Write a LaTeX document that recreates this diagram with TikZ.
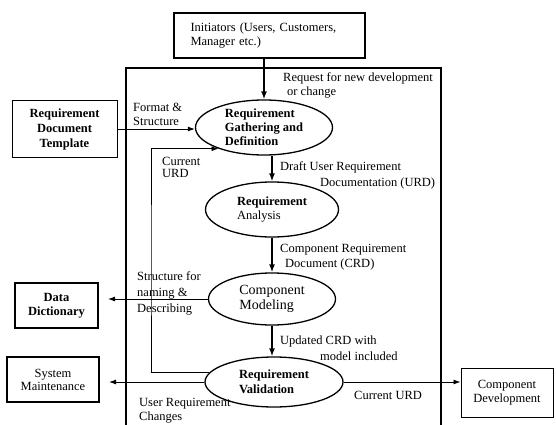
\documentclass[tikz,border=0pt]{standalone}
\usepackage{fontspec}
\setmainfont{Liberation Serif}
\usetikzlibrary{arrows.meta,shapes.geometric}
\newcommand\lblfont[1]{\fontsize{12.5}{#1}\selectfont}
\begin{document}
\begin{tikzpicture}[x=1pt,y=-1pt,
  txt/.style={font=\lblfont{14}},
  box/.style={draw, rectangle, inner sep=0pt, txt, align=center},
  proc/.style={draw, ellipse, line width=1.3pt, inner sep=0pt, txt, align=left},
  lbl/.style={inner sep=0pt, txt, align=left, anchor=west},
  flow/.style={line width=1.8pt, -{Latex[length=8pt,width=6pt]}},
  link/.style={line width=0.9pt, -{Latex[length=7pt,width=5pt]}},
  frame/.style={line width=2.5pt}]
\useasboundingbox (0,0) rectangle (556,425);
\fill[white] (0,0) rectangle (556,425);

% external parties
\node[box, line width=1.4pt, minimum width=191pt, minimum height=45pt,
      text width=158pt, align=left] (init) at (269.5,35.5)
      {Initiators (Users, Customers,\\Manager etc.)};
\node[box, line width=1pt, minimum width=105pt, minimum height=56pt,
      font=\lblfont{15}\bfseries] (tmpl) at (64.5,129)
      {Requirement\\Document\\Template};
\node[box, line width=2pt, minimum width=83pt, minimum height=45pt,
      font=\lblfont{14}\bfseries] (ddict) at (56.5,305.5) {Data\\Dictionary};
\node[box, line width=2pt, minimum width=92pt, minimum height=45pt,
      font=\lblfont{13}] (smaint) at (53,379.5) {System\\Maintenance};
\node[box, line width=1pt, minimum width=92pt, minimum height=49pt]
      (cdev) at (507,392.5) {Component\\Development};

% process boundary
\draw[frame] (126,428) -- (126,68) -- (441,68) -- (441,428);

% requirement processes
\node[proc, minimum width=137pt, minimum height=55pt, font=\lblfont{14}\bfseries]
      (gather) at (264,127.5) {Requirement\\Gathering and\\Definition};
\node[proc, minimum width=133pt, minimum height=55pt]
      (analysis) at (272,209.5) {\textbf{Requirement}\\Analysis};
\node[proc, minimum width=127pt, minimum height=52pt, font=\fontsize{14}{15}\selectfont]
      (model) at (272,299) {Component\\Modeling};
\node[proc, minimum width=138pt, minimum height=50pt, font=\lblfont{15}\bfseries]
      (valid) at (274,382) {Requirement\\Validation};

% flows
\draw[flow] (init.south -| gather.north) -- (gather.north);
\draw[link] (tmpl.east) -- (tmpl.east -| gather.west);
\draw[flow] (analysis.north |- gather.south) -- (analysis.north);
\draw[flow] (analysis.south) -- (model.north);
\draw[flow] (model.south) -- (model.south |- valid.north);
\draw[link, shorten >=9pt] (model.west) -- (model.west -| ddict.east);
\draw[link, shorten >=9pt] (valid.west) -- (valid.west -| smaint.east);
\draw[link] (valid.east) -- (valid.east -| cdev.west);
\coordinate (fbturn) at (151,260);
\draw[link] (valid.172) -| (fbturn) |- (gather.205);

% flow labels
\node[lbl] (lreq) at (283,85.5) {Request for new development\\\hspace*{4pt}or change};
\node[lbl] (lfmt) at (133,114) {Format \&\\Structure};
\node[lbl, font=\lblfont{12}] (lcur) at (162,167) {Current\\URD};
\node[lbl, font=\lblfont{16}] (ldraft) at (280,175)
      {Draft User Requirement\\\hspace*{40pt}Documentation (URD)};
\node[lbl, font=\lblfont{15}] (lcomp) at (280,257.5)
      {Component Requirement\\\hspace*{5pt}Document (CRD)};
\node[lbl, font=\lblfont{16}] (lstruct) at (137,293) {Structure for\\naming \&\\Describing};
\node[lbl, font=\lblfont{16}] (lupd) at (280,348.5)
      {Updated CRD with\\\hspace*{40pt}model included};
\node[lbl] (lcurv) at (354,395) {Current URD};
\node[lbl] (lurc) at (139,411) {User Requirement\\Changes};
\end{tikzpicture}
\end{document}
